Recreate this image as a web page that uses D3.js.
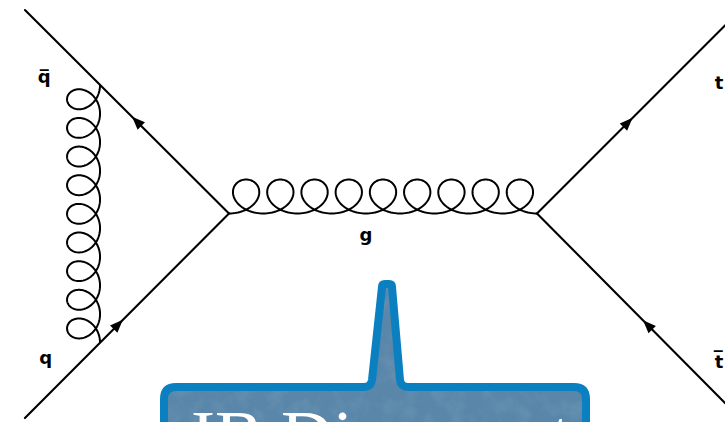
<!DOCTYPE html>
<html><head><meta charset="utf-8">
<script src="https://cdn.jsdelivr.net/npm/d3@7"></script>
<style>html,body{margin:0;padding:0;background:#fff;overflow:hidden}svg{display:block}</style>
</head><body>
<script>
// ---- data (diagram units: left vertex at (-1,0), right vertex at (1,0)) ----
const vertexNames = ["L", "R"];
const vertexPos = [[-1, 0], [1, 0]];
const fermionLabels = ["q\u0305", "q", "t", "t\u0305"];
const fermionVertex = ["L", "L", "R", "R"];
const fermionEnds = [[-2.325, 1.321], [-2.325, -1.328], [2.35, 1.35], [2.35, -1.36]];
const arrowFrac = [0.475, 0.52, 0.46, 0.51];          // fraction from vertex outward
const arrowTowardVertex = [false, true, false, true];
const labelPos = [[-2.20, 0.845], [-2.19, -0.98], [2.182, 0.81], [2.182, -1.0]];
const gluonLabel = "g";
const gluonLabelPos = [-0.11, -0.18];
const sGluonLoops = 9;
const tGluonLoops = 9;
const tGluonAttachFrac = 0.632;   // along fermion lines 0 and 1, from vertex
const bannerText = "IB Diagram topic";

// ---- scales ----
const W = 725, H = 422;
const x = d3.scaleLinear().domain([-1, 1]).range([229, 537]);
const y = d3.scaleLinear().domain([0, 1]).range([213.5, 59.5]);
const P = p => [x(p[0]), y(p[1])];
const vtx = Object.fromEntries(vertexNames.map((n, i) => [n, P(vertexPos[i])]));

const svg = d3.select("body").append("svg").attr("width", W).attr("height", H);
svg.append("rect").attr("width", W).attr("height", H).attr("fill", "#fff");

// ---- banner (speech bubble) ----
const defs = svg.append("defs");
const f = defs.append("filter").attr("id", "tex").attr("x", 0).attr("y", 0).attr("width", 1).attr("height", 1);
f.append("feTurbulence").attr("type", "fractalNoise").attr("baseFrequency", 0.06).attr("numOctaves", 3).attr("seed", 4).attr("result", "n");
f.append("feColorMatrix").attr("in", "n").attr("type", "matrix")
  .attr("values", "0 0 0 0 0.25  0 0 0 0 0.40  0 0 0 0 0.55  0 0 0 1.1 -0.45");
const bubble = "M164,430 L164,399 Q164,387 176,387 L364,387 Q371,387 372,380 L382,287 Q382,284 385,284 L389,284 Q392,284 392,287 L400,380 Q401,387 408,387 L574,387 Q586,387 586,399 L586,430 Z";
defs.append("clipPath").attr("id", "bclip").append("path").attr("d", bubble);
svg.append("path").attr("d", bubble).attr("fill", "#5986a9");
svg.append("rect").attr("x", 150).attr("y", 270).attr("width", 450).attr("height", 160)
  .attr("filter", "url(#tex)").attr("clip-path", "url(#bclip)").attr("opacity", 0.55);
svg.append("path").attr("d", bubble).attr("fill", "none").attr("stroke", "#0a80c1")
  .attr("stroke-width", 8).attr("stroke-linejoin", "round");
const inner = defs.append("clipPath").attr("id", "iclip");
inner.append("rect").attr("x", 168).attr("y", 391).attr("width", 414).attr("height", 60);
svg.append("text").attr("x", 191).attr("y", 460).attr("clip-path", "url(#iclip)")
  .attr("font-family", "'Liberation Serif', serif").attr("font-size", 72).attr("fill", "#fff")
  .text(bannerText);

// ---- fermion lines ----
const g = svg.append("g");
fermionEnds.forEach((e, i) => {
  const v = vtx[fermionVertex[i]], p = P(e);
  g.append("line").attr("x1", v[0]).attr("y1", v[1]).attr("x2", p[0]).attr("y2", p[1])
    .attr("stroke", "#000").attr("stroke-width", 2.1).attr("stroke-linecap", "round");
  const dx = p[0] - v[0], dy = p[1] - v[1], L = Math.hypot(dx, dy);
  let ux = dx / L, uy = dy / L;
  const tip = [v[0] + dx * arrowFrac[i], v[1] + dy * arrowFrac[i]];
  if (arrowTowardVertex[i]) { ux = -ux; uy = -uy; }
  const len = 13, hw = 5.2;
  const bx = tip[0] - ux * len, by = tip[1] - uy * len;
  g.append("path").attr("d", `M${tip[0]},${tip[1]} L${bx - uy * hw},${by + ux * hw} L${bx + uy * hw},${by - ux * hw} Z`)
    .attr("fill", "#000");
});

// ---- gluons ----
function gluonPath(p0, p1, n, c, b, side) {
  const dx = p1[0] - p0[0], dy = p1[1] - p0[1], L = Math.hypot(dx, dy);
  const ux = dx / L, uy = dy / L, nx = -uy * side, ny = ux * side;
  const k = L / (2 * Math.PI * n), N = n * 90, pts = [];
  for (let i = 0; i <= N; i++) {
    const th = 2 * Math.PI * n * i / N;
    const a = k * th + b * Math.sin(th), o = c * (1 - Math.cos(th));
    pts.push([p0[0] + ux * a + nx * o, p0[1] + uy * a + ny * o]);
  }
  return d3.line()(pts);
}
g.append("path").attr("d", gluonPath(vtx.L, vtx.R, sGluonLoops, 17, 21, -1))
  .attr("fill", "none").attr("stroke", "#000").attr("stroke-width", 2);
const attach = (i) => { const v = vtx[fermionVertex[i]], p = P(fermionEnds[i]);
  return [v[0] + (p[0] - v[0]) * tGluonAttachFrac, v[1] + (p[1] - v[1]) * tGluonAttachFrac]; };
g.append("path").attr("d", gluonPath(attach(0), attach(1), tGluonLoops, 16.5, 16.5, 1))
  .attr("fill", "none").attr("stroke", "#000").attr("stroke-width", 2);

// ---- labels ----
const lab = svg.append("g").attr("font-family", "'DejaVu Sans', sans-serif")
  .attr("font-weight", "bold").attr("font-size", 18).attr("fill", "#000").attr("text-anchor", "middle");
fermionLabels.forEach((t, i) => {
  const p = P(labelPos[i]);
  lab.append("text").attr("x", p[0]).attr("y", p[1]).text(t);
});
const gp = P(gluonLabelPos);
lab.append("text").attr("x", gp[0]).attr("y", gp[1]).text(gluonLabel);
</script>
</body></html>
